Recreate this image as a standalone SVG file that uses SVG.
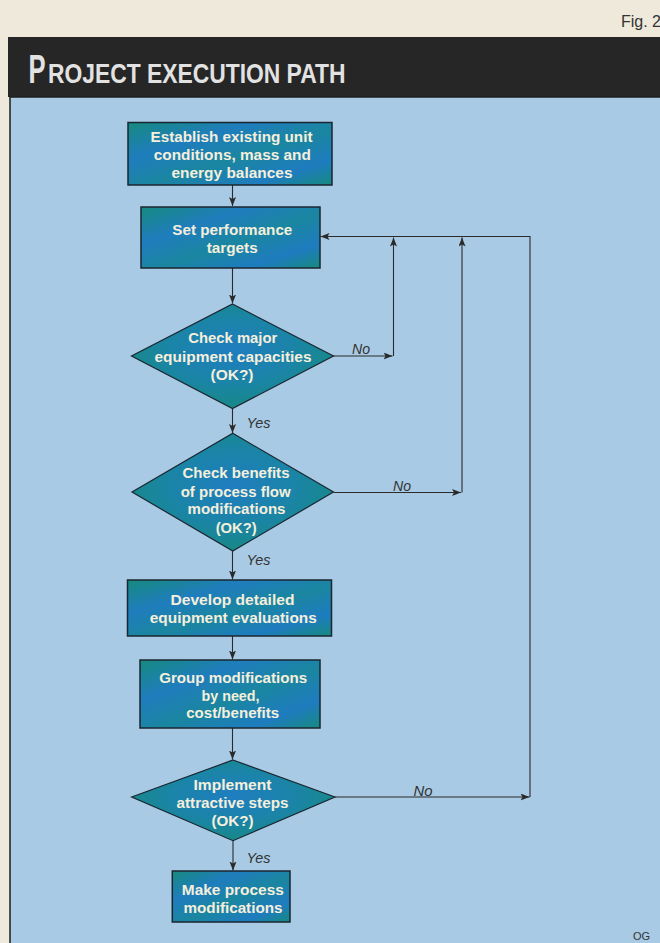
<svg xmlns="http://www.w3.org/2000/svg" width="660" height="943" viewBox="0 0 660 943">
<defs>
<linearGradient id="boxfill" x1="0" y1="0" x2="1" y2="1">
<stop offset="0" stop-color="#168a80"/>
<stop offset="0.3" stop-color="#1f7dbd"/>
<stop offset="0.55" stop-color="#1a86a0"/>
<stop offset="0.8" stop-color="#1e7cbf"/>
<stop offset="1" stop-color="#168a80"/>
</linearGradient>
<radialGradient id="diafill" cx="0.5" cy="0.45" r="0.6">
<stop offset="0" stop-color="#1f7dc0"/>
<stop offset="0.5" stop-color="#1b84a8"/>
<stop offset="1" stop-color="#168a80"/>
</radialGradient>
<marker id="ah" markerUnits="userSpaceOnUse" markerWidth="10" markerHeight="8" refX="9" refY="3.5" orient="auto">
<path d="M0,0 L9,3.5 L0,7 L2,3.5 z" fill="#2a2a2a"/>
</marker>
</defs>
<style>
.box { fill: url(#boxfill); stroke: #1b2630; stroke-width: 1.5; }
.dia { fill: url(#diafill); stroke: #1b2630; stroke-width: 1.2; }
.t { font-family: "Liberation Sans", Arial, sans-serif; font-weight: bold; font-size: 15px; fill: #f5efdc; text-anchor: middle; }
.lbl { font-family: "Liberation Sans", Arial, sans-serif; font-style: italic; font-size: 15px; fill: #333333; }
.ttl { font-family: "Liberation Sans", Arial, sans-serif; font-weight: bold; fill: #e2e2e2; }
.ln { fill: none; stroke: #2a2a2a; stroke-width: 1.1; }
.arr { marker-end: url(#ah); }
</style>
<rect x="0" y="0" width="660" height="943" fill="#efe9db"/>
<text x="621" y="27" font-family="Liberation Sans, Arial, sans-serif" font-size="16" fill="#333">Fig. 2</text>
<rect x="8" y="37" width="660" height="60" fill="#262626"/>
<rect x="10" y="97" width="660" height="850" fill="#a8cae4" stroke="#1e1e1e" stroke-width="1.5"/>
<g id="title">
<text class="ttl" transform="translate(28.5,83) scale(0.64,1)" font-size="40">P</text>
<text class="ttl" transform="translate(48,83) scale(0.816,1)" font-size="28">ROJECT EXECUTION PATH</text>
</g>
<text x="633" y="940" font-family="Liberation Sans, Arial, sans-serif" font-size="11" fill="#333">OG</text>

<g id="connectors">
<path class="ln arr" d="M232.5,185 V206"/>
<path class="ln arr" d="M232.5,268 V303.5"/>
<path class="ln arr" d="M232.5,408.5 V433"/>
<path class="ln arr" d="M232.5,551 V579.5"/>
<path class="ln arr" d="M232.5,636 V659.5"/>
<path class="ln arr" d="M232.5,728 V759.5"/>
<path class="ln arr" d="M233,841 V870.5"/>
<path class="ln arr" d="M333,356 H392.5"/>
<path class="ln arr" d="M393.5,356 V237.5"/>
<path class="ln arr" d="M333.5,492.5 H461"/>
<path class="ln arr" d="M462,492.5 V237.5"/>
<path class="ln arr" d="M335,797 H529.5"/>
<path class="ln arr" d="M530,797 V236.5 H320.5"/>
<text class="lbl" x="352" y="354" textLength="18" lengthAdjust="spacingAndGlyphs">No</text>
<text class="lbl" x="393" y="491" textLength="18" lengthAdjust="spacingAndGlyphs">No</text>
<text class="lbl" x="413.5" y="796" textLength="19" lengthAdjust="spacingAndGlyphs">No</text>
<text class="lbl" x="246.5" y="428" textLength="24" lengthAdjust="spacingAndGlyphs">Yes</text>
<text class="lbl" x="246.5" y="565" textLength="24" lengthAdjust="spacingAndGlyphs">Yes</text>
<text class="lbl" x="246.5" y="863" textLength="24" lengthAdjust="spacingAndGlyphs">Yes</text>
</g>

<g id="n1">
<rect class="box" x="128" y="122.5" width="204" height="62.5"/>
<text class="t" x="231.5" y="142" textLength="162" lengthAdjust="spacingAndGlyphs">Establish existing unit</text>
<text class="t" x="232.3" y="160" textLength="157" lengthAdjust="spacingAndGlyphs">conditions, mass and</text>
<text class="t" x="232" y="177.7" textLength="121" lengthAdjust="spacingAndGlyphs">energy balances</text>
</g>
<g id="n2">
<rect class="box" x="141" y="207" width="179" height="61"/>
<text class="t" x="232.3" y="235" textLength="120" lengthAdjust="spacingAndGlyphs">Set performance</text>
<text class="t" x="232.2" y="252.7" textLength="51" lengthAdjust="spacingAndGlyphs">targets</text>
</g>
<g id="d1">
<polygon class="dia" points="232.5,304 333.5,356 232.5,408.5 131.5,356"/>
<text class="t" x="232.8" y="343.3" textLength="89" lengthAdjust="spacingAndGlyphs">Check major</text>
<text class="t" x="233" y="362.3" textLength="157" lengthAdjust="spacingAndGlyphs">equipment capacities</text>
<text class="t" x="232" y="380" textLength="43" lengthAdjust="spacingAndGlyphs">(OK?)</text>
</g>
<g id="d2">
<polygon class="dia" points="232.8,433.3 333.5,492 232.8,551 132,492"/>
<text class="t" x="236" y="477.7" textLength="107" lengthAdjust="spacingAndGlyphs">Check benefits</text>
<text class="t" x="235.7" y="496.7" textLength="110" lengthAdjust="spacingAndGlyphs">of process flow</text>
<text class="t" x="236.5" y="514.3" textLength="98" lengthAdjust="spacingAndGlyphs">modifications</text>
<text class="t" x="236.2" y="533.3" textLength="41" lengthAdjust="spacingAndGlyphs">(OK?)</text>
</g>
<g id="n3">
<rect class="box" x="127.5" y="580" width="204" height="56"/>
<text class="t" x="232.5" y="605" textLength="124" lengthAdjust="spacingAndGlyphs">Develop detailed</text>
<text class="t" x="233.3" y="623.3" textLength="167" lengthAdjust="spacingAndGlyphs">equipment evaluations</text>
</g>
<g id="n4">
<rect class="box" x="140" y="660" width="180" height="68"/>
<text class="t" x="233.2" y="683.3" textLength="148" lengthAdjust="spacingAndGlyphs">Group modifications</text>
<text class="t" x="230.5" y="700.7" textLength="58" lengthAdjust="spacingAndGlyphs">by need,</text>
<text class="t" x="232.7" y="718.3" textLength="93" lengthAdjust="spacingAndGlyphs">cost/benefits</text>
</g>
<g id="d3">
<polygon class="dia" points="233,760 335,797 233,840.7 131.7,797"/>
<text class="t" x="232.5" y="790" textLength="78" lengthAdjust="spacingAndGlyphs">Implement</text>
<text class="t" x="232.5" y="807.7" textLength="112" lengthAdjust="spacingAndGlyphs">attractive steps</text>
<text class="t" x="232.5" y="826" textLength="42" lengthAdjust="spacingAndGlyphs">(OK?)</text>
</g>
<g id="n5">
<rect class="box" x="172.3" y="871" width="117.7" height="51"/>
<text class="t" x="232.8" y="895" textLength="102" lengthAdjust="spacingAndGlyphs">Make process</text>
<text class="t" x="233" y="912.7" textLength="99" lengthAdjust="spacingAndGlyphs">modifications</text>
</g>
</svg>
